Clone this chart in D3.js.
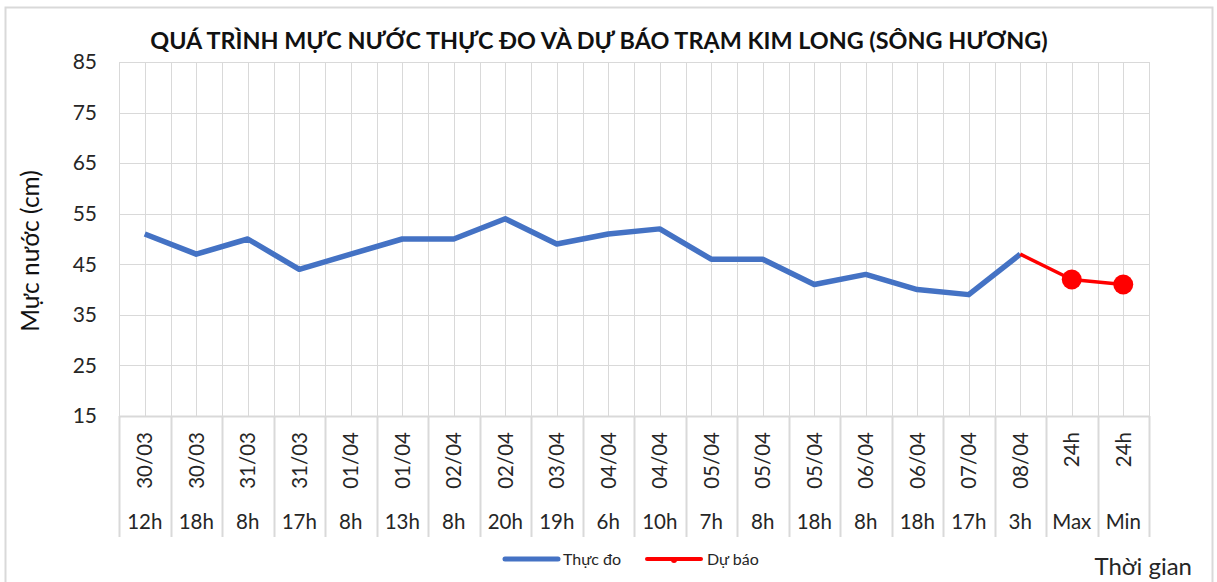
<!DOCTYPE html>
<html>
<head>
<meta charset="utf-8">
<script src="https://cdn.jsdelivr.net/npm/d3@7"></script>
<style>
  html, body { margin: 0; padding: 0; background: #fff; }
  svg { display: block; font-family: Lato, "Noto Sans", sans-serif; }
</style>
</head>
<body>
<div id="chart"></div>
<script>
// category labels (two levels: date and hour)
const dates = ['30/03', '30/03', '31/03', '31/03', '01/04', '01/04', '02/04', '02/04', '03/04', '04/04',
  '04/04', '05/04', '05/04', '05/04', '06/04', '06/04', '07/04', '08/04', '24h', '24h'];
const hours = ['12h', '18h', '8h', '17h', '8h', '13h', '8h', '20h', '19h', '6h',
  '10h', '7h', '8h', '18h', '8h', '18h', '17h', '3h', 'Max', 'Min'];

// water level (cm)
const observed = [51, 47, 50, 44, 47, 50, 50, 54, 49, 51, 52, 46, 46, 41, 43, 40, 39, 47, null, null];
const forecast = [null, null, null, null, null, null, null, null, null, null,
  null, null, null, null, null, null, null, 47, 42, 41];

const yTicks = [15, 25, 35, 45, 55, 65, 75, 85];

const W = 1217, H = 582;
const margin = { top: 62, right: 68, bottom: 166, left: 119 };
const plotW = W - margin.left - margin.right;
const plotH = H - margin.top - margin.bottom;
const grid = '#d9d9d9';
const textColor = '#262626';

const svg = d3.select('#chart').append('svg')
  .attr('width', W)
  .attr('height', H);

// outer chart border
svg.append('rect')
  .attr('x', 5.5).attr('y', 7.5)
  .attr('width', 1207).attr('height', 600)
  .attr('fill', 'none')
  .attr('stroke', grid)
  .attr('stroke-width', 2);

const keys = dates.map((d, i) => i);
const x = d3.scaleBand().domain(keys).range([0, plotW]).padding(0);
const y = d3.scaleLinear().domain([15, 85]).range([plotH, 0]);

const g = svg.append('g').attr('transform', `translate(${margin.left},${margin.top})`);

// vertical grid: band edges and centres
const vLines = [];
keys.forEach(k => { vLines.push(x(k)); vLines.push(x(k) + x.bandwidth() / 2); });
vLines.push(plotW);
g.append('g').selectAll('line').data(vLines).enter().append('line')
  .attr('x1', d => Math.round(d) + 0.5).attr('x2', d => Math.round(d) + 0.5)
  .attr('y1', 0).attr('y2', plotH)
  .attr('stroke', grid).attr('stroke-width', 1);

// horizontal grid
g.append('g').selectAll('line').data(yTicks).enter().append('line')
  .attr('x1', 0).attr('x2', plotW)
  .attr('y1', d => Math.round(y(d)) + 0.5).attr('y2', d => Math.round(y(d)) + 0.5)
  .attr('stroke', grid).attr('stroke-width', d => d === 15 ? 2 : 1);

// y axis
const yAxis = g.append('g')
  .call(d3.axisLeft(y).tickValues(yTicks).tickSize(0).tickPadding(22).tickFormat(d3.format('d')));
yAxis.select('.domain').attr('stroke', grid);
yAxis.selectAll('text')
  .attr('font-size', 21)
  .attr('fill', textColor)
  .attr('font-family', 'Lato, sans-serif');

// multi-level category axis
const sepBottom = 121;
const catAxis = g.append('g').attr('transform', `translate(0,${plotH})`);
catAxis.selectAll('line.sep').data([...keys.map(k => x(k)), plotW]).enter().append('line')
  .attr('class', 'sep')
  .attr('x1', d => Math.round(d) + 0.5).attr('x2', d => Math.round(d) + 0.5)
  .attr('y1', 0).attr('y2', sepBottom)
  .attr('stroke', grid).attr('stroke-width', 2);

catAxis.selectAll('text.date').data(keys).enter().append('text')
  .attr('class', 'date')
  .attr('transform', k => `translate(${x(k) + x.bandwidth() / 2},16) rotate(-90)`)
  .attr('text-anchor', 'end')
  .attr('dy', '0.36em')
  .attr('font-size', 20.5)
  .attr('fill', textColor)
  .text(k => dates[k]);

catAxis.selectAll('text.hour').data(keys).enter().append('text')
  .attr('class', 'hour')
  .attr('x', k => x(k) + x.bandwidth() / 2)
  .attr('y', 113)
  .attr('text-anchor', 'middle')
  .attr('font-size', 20.5)
  .attr('fill', textColor)
  .text(k => hours[k]);

// lines
const cx = k => x(k) + x.bandwidth() / 2;
const lineGen = arr => d3.line()
  .defined(k => arr[k] != null)
  .x(k => cx(k))
  .y(k => y(arr[k]));

g.append('path')
  .attr('d', lineGen(observed)(keys))
  .attr('fill', 'none')
  .attr('stroke', '#4472C4')
  .attr('stroke-width', 5.5)
  .attr('stroke-linejoin', 'round');

g.append('path')
  .attr('d', lineGen(forecast)(keys))
  .attr('fill', 'none')
  .attr('stroke', '#FF0000')
  .attr('stroke-width', 3.5)
  .attr('stroke-linejoin', 'round');

g.selectAll('circle.fc').data(keys.filter(k => forecast[k] != null && observed[k] == null))
  .enter().append('circle')
  .attr('class', 'fc')
  .attr('cx', k => cx(k))
  .attr('cy', k => y(forecast[k]))
  .attr('r', 10)
  .attr('fill', '#FF0000');

// title
const title = svg.append('text')
  .attr('x', 599)
  .attr('y', 49)
  .attr('text-anchor', 'middle')
  .attr('font-weight', 'bold')
  .attr('font-size', 21)
  .attr('fill', '#111')
  .text('QUÁ TRÌNH MỰC NƯỚC THỰC ĐO VÀ DỰ BÁO TRẠM KIM LONG (SÔNG HƯƠNG)');
const tw = title.node().getComputedTextLength();
title.attr('font-size', 21 * 898 / tw);

// axis titles
svg.append('text')
  .attr('transform', 'translate(39,251) rotate(-90)')
  .attr('text-anchor', 'middle')
  .attr('font-size', 24.5)
  .attr('fill', '#111')
  .text('Mực nước (cm)');

svg.append('text')
  .attr('x', 1192)
  .attr('y', 575)
  .attr('text-anchor', 'end')
  .attr('font-size', 24)
  .attr('fill', textColor)
  .text('Thời gian');

// legend
const legend = svg.append('g').attr('transform', 'translate(0,559)');
legend.append('line')
  .attr('x1', 505).attr('x2', 558).attr('y1', 0).attr('y2', 0)
  .attr('stroke', '#4472C4').attr('stroke-width', 5).attr('stroke-linecap', 'round');
legend.append('text')
  .attr('x', 563).attr('y', 0).attr('dy', '0.35em')
  .attr('font-size', 16).attr('fill', textColor)
  .text('Thực đo');
legend.append('line')
  .attr('x1', 647).attr('x2', 701).attr('y1', 0).attr('y2', 0)
  .attr('stroke', '#FF0000').attr('stroke-width', 4).attr('stroke-linecap', 'round');
legend.append('circle')
  .attr('cx', 674).attr('cy', 1).attr('r', 3).attr('fill', '#FF0000');
legend.append('text')
  .attr('x', 707).attr('y', 0).attr('dy', '0.35em')
  .attr('font-size', 16).attr('fill', textColor)
  .text('Dự báo');
</script>
</body>
</html>
